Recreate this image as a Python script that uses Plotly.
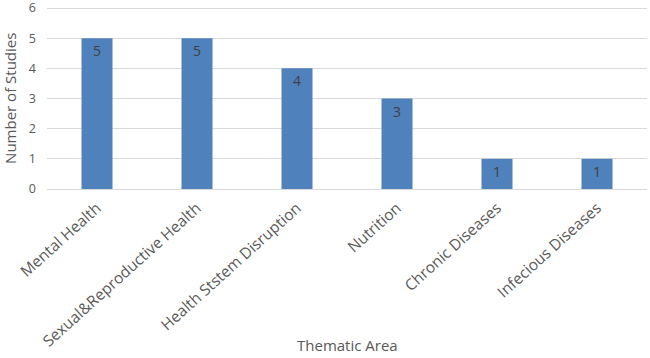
import plotly.graph_objects as go

categories = ["Mental Health", "Sexual&Reproductive Health", "Health Ststem Disruption",
              "Nutrition", "Chronic Diseases", "Infecious Diseases"]
studies = [5, 5, 4, 3, 1, 1]

FONT = "Open Sans"
GRAY = "#595959"

fig = go.Figure(go.Bar(
    x=categories, y=studies,
    marker=dict(color="#4f81bd", line=dict(width=0)),
    text=[str(v) for v in studies],
    textposition="inside", insidetextanchor="end",
    textfont=dict(family=FONT, size=14, color="#404040"),
    textangle=0,
))

fig.update_layout(
    width=650, height=358,
    margin=dict(l=47, r=3, t=5, b=169),
    paper_bgcolor="white", plot_bgcolor="white",
    bargap=0.69,
    showlegend=False,
    font=dict(family=FONT, color=GRAY),
    annotations=[
        dict(text="Thematic Area", xref="paper", yref="paper", x=0.5, y=-0.848,
             xanchor="center", yanchor="middle", showarrow=False,
             font=dict(family=FONT, size=15, color=GRAY)),
        dict(text="Number of Studies", xref="paper", yref="paper", x=-0.062, y=0.494,
             xanchor="center", yanchor="middle", showarrow=False, textangle=-90,
             font=dict(family=FONT, size=15, color=GRAY)),
    ],
)
fig.update_xaxes(
    tickangle=-42, tickfont=dict(family=FONT, size=15.5, color=GRAY),
    showline=True, linecolor="#d9d9d9", linewidth=1,
    showgrid=False, ticks="", automargin=False, ticklabelstandoff=3,
    ticklabeloverflow="allow",
)
fig.update_yaxes(
    range=[0, 6.1], tickvals=[0, 1, 2, 3, 4, 5, 6],
    showgrid=True, gridcolor="#d9d9d9", gridwidth=1,
    zeroline=False, showline=False, ticks="", automargin=False,
    tickfont=dict(family=FONT, size=12.5, color=GRAY), ticklabelstandoff=10,
    ticklabeloverflow="allow",
)

fig.write_html("out.html", config={"displayModeBar": False},
               post_script="document.body.style.margin='0';document.body.style.overflow='hidden';")
